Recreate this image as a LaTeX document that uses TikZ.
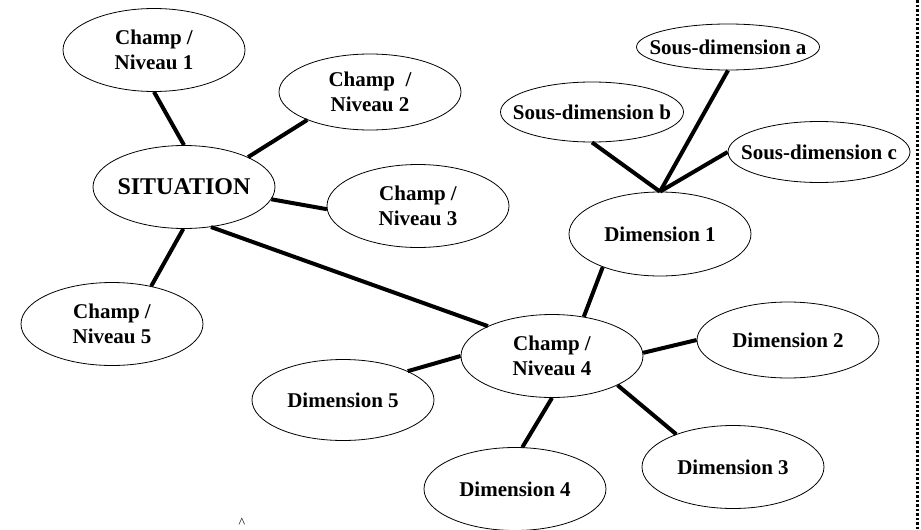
\documentclass[tikz,border=0pt]{standalone}
\usepackage{fontspec}
\setmainfont{Liberation Serif}
\usetikzlibrary{shapes.geometric}

\begin{document}
\begin{tikzpicture}
  [x=1pt,y=-1pt,every node/.style={ellipse,draw,line width=.8pt,inner xsep=-15pt,inner ysep=0pt,align=center,
   minimum width=182,minimum height=83,font=\fontsize{21}{25}\selectfont\bfseries}]
  \useasboundingbox (0,0) rectangle (921,530);
  \node (c1) at (154,50) {Champ /\\Niveau 1};
  \node[minimum height=76] (c2) at (370,92) {Champ~ /\\Niveau 2};
  \node[font=\fontsize{24}{26}\selectfont\bfseries] (sit) at (184,187) {SITUATION};
  \node (c3) at (418,206) {Champ /\\Niveau 3};
  \node (c5) at (112,324) {Champ /\\Niveau 5};
  \node (c4) at (552,356) {Champ /\\Niveau 4};
  \node[minimum width=183,minimum height=46] (sda) at (728,47) {Sous-dimension a};
  \node[minimum width=183,minimum height=60] (sdb) at (592,112) {Sous-dimension b};
  \node[minimum width=182,minimum height=61] (sdc) at (819,152) {Sous-dimension c};
  \node[minimum height=84] (d1) at (660,234) {Dimension 1};
  \node[minimum height=76] (d2) at (788,340) {Dimension 2};
  \node (d3) at (733,467) {Dimension 3};
  \node (d4) at (515,489) {Dimension 4};
  \node[minimum height=81] (d5) at (343,400) {Dimension 5};
  \foreach \from/\to in {c1.south/sit.north,sit.25/c2.204,sit.-8/c3.182,sit.-56/c4.155,sit.269/c5.44,
      c4.51/d1.210,c4.2/d2.west,c4.336/d3.150,c4.south/d4.80,c4.west/d5.24}
    \draw [line width=4pt] (\from) -- (\to);
  \foreach \from in {sda.south,sdb.south,sdc.west}
    \draw [line width=4pt] (\from) -- (d1.north);
  \node[draw=none,minimum width=0,minimum height=0,inner sep=0pt,font=\fontsize{14}{14}\selectfont] (car) at (242,523) {\textasciicircum};
  \draw [line width=2.5pt,dotted] (917.5,0) -- (917.5,530);
\end{tikzpicture}
\end{document}
